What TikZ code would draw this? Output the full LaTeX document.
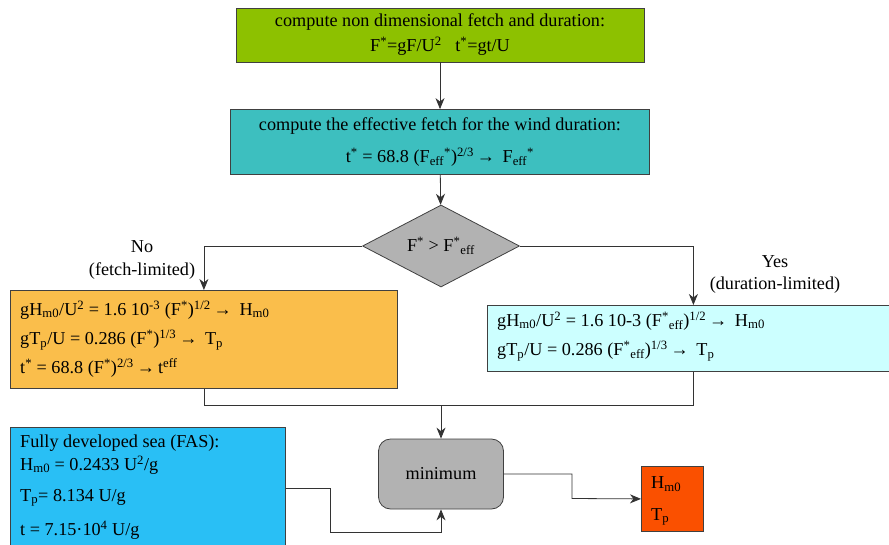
\documentclass[tikz,border=0pt]{standalone}
\usepackage{fontspec}
\setmainfont{Liberation Serif}
\usetikzlibrary{arrows.meta,shapes.geometric,positioning}

\definecolor{grn}{RGB}{141,193,0}
\definecolor{tealbox}{RGB}{61,191,191}
\definecolor{orng}{RGB}{250,190,75}
\definecolor{lcyan}{RGB}{204,255,255}
\definecolor{fasblue}{RGB}{41,191,245}
\definecolor{outred}{RGB}{250,80,0}
\definecolor{boxgray}{RGB}{178,178,178}

\newcommand{\supx}[1]{\textsuperscript{#1}}
\newcommand{\subx}[1]{\textsubscript{#1}}

\begin{document}
\begin{tikzpicture}[x=1pt, y=-1pt, font=\rmfamily\fontsize{18.2}{20}\selectfont,
	box/.style={draw=black!75, line width=0.8pt},
	line/.style={draw=black!80, line width=0.8pt},
	arr/.style={line, -{Stealth[length=11pt, width=9pt, inset=3.5pt]}},
	txt/.style={anchor=west, inner sep=0pt}]
		\useasboundingbox (0,0) rectangle (889,544);
		% top boxes
		\node[box, fill=grn, minimum width=408, minimum height=54, align=center] (nondim) at (440,35)
			{compute non dimensional fetch and duration:\\[5pt] F\supx{*}=gF/U\supx{2}\ \ \ t\supx{*}=gt/U};
		\node[box, fill=tealbox, minimum width=419, minimum height=65, align=center] (eff) at (440,142)
			{compute the effective fetch for the wind duration:\\[12pt]
			t\supx{*} = 68.8 (F\subx{eff}\supx{*})\supx{2/3}\,→\ \,F\subx{eff}\supx{*}};
		\node[diamond, box, fill=boxgray, aspect=1.9, minimum width=157, minimum height=82, inner sep=0pt] (test) at (441,246)
			{F\supx{*} > F\supx{*}\subx{eff}};
		% branches
		\node (no) at (142,247) {No};
		\node (nolim) at (142,271) {(fetch-limited)};
		\node (yes) at (775,262) {Yes};
		\node (yeslim) at (775,285) {(duration-limited)};
		\node[box, fill=orng, minimum width=387, minimum height=98, anchor=north west] (fetch) at (10,290) {};
		\node[txt] (fetch1) at (20,310) {gH\subx{m0}/U\supx{2} = 1.6 10\supx{-3} (F\supx{*})\supx{1/2}\,→\ \,H\subx{m0}};
		\node[txt] (fetch2) at (20,340) {gT\subx{p}/U = 0.286 (F\supx{*})\supx{1/3}\,→\ \,T\subx{p}};
		\node[txt] (fetch3) at (20,368) {t\supx{*} = 68.8 (F\supx{*})\supx{2/3}\,→\,t\supx{eff}};
		\node[box, fill=lcyan, minimum width=412, minimum height=66, anchor=north west] (dur) at (487,305) {};
		\node[txt] (dur1) at (497,321) {gH\subx{m0}/U\supx{2} = 1.6 10-3 (F\supx{*}\subx{eff})\supx{1/2}\,→\ \,H\subx{m0}};
		\node[txt] (dur2) at (497,351) {gT\subx{p}/U = 0.286 (F\supx{*}\subx{eff})\supx{1/3}\,→\ \,T\subx{p}};
		% bottom row
		\node[box, fill=fasblue, minimum width=275, minimum height=121, anchor=north west] (fas) at (10,427) {};
		\node[txt] (fas1) at (20,443) {Fully developed sea (FAS):};
		\node[txt] (fas2) at (20,465) {H\subx{m0} = 0.2433 U\supx{2}/g};
		\node[txt] (fas3) at (20,498) {T\subx{p}= 8.134 U/g};
		\node[txt] (fas4) at (20,530) {t = 7.15·10\supx{4} U/g};
		\node[box, fill=boxgray, rounded corners=12pt, minimum width=125, minimum height=70] (min) at (441,474) {minimum};
		\node[box, fill=outred, minimum width=62, minimum height=65, anchor=north west] (out) at (641,466) {};
		\node[txt] (out1) at (651,484) {H\subx{m0}};
		\node[txt] (out2) at (651,517) {T\subx{p}};
		% connectors
		\coordinate (join) at (441,405);
		\coordinate (bend) at (330,532);
		\coordinate (kink) at (572,498.5);
		\draw[arr] (nondim) -- (eff);
		\draw[arr] (eff) -- (test);
		\draw[arr] (test.west) -| (fetch.north);
		\draw[arr] (test.east) -| (dur.north);
		\draw[line] (fetch.south) |- (join);
		\draw[line] (dur.south) |- (join);
		\draw[arr] (join) -- (min.north);
		\draw[arr] (fas.east) -| (bend) -| (min.south);
		\draw[arr] (min.east) -| (kink) -- (out.west);
	\end{tikzpicture}
\end{document}
